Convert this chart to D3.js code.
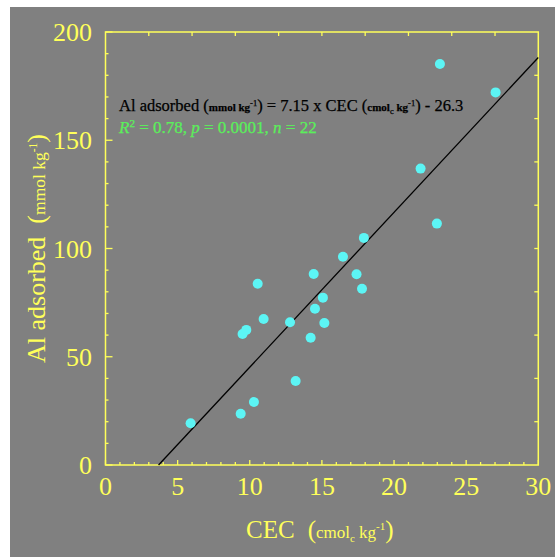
<!DOCTYPE html>
<html>
<head>
<meta charset="utf-8">
<script src="https://cdn.jsdelivr.net/npm/d3@7"></script>
<style>
  body { margin: 0; background: #fff; }
  svg text { font-family: "Liberation Serif", "Times New Roman", serif; }
</style>
</head>
<body>
<div id="chart"></div>
<script>
// CEC (cmolc/kg) vs Al adsorbed (mmol/kg)
const cec = [5.9, 9.37, 10.29, 13.18, 9.5, 9.76, 10.96, 10.55, 12.79, 14.22, 15.17,
             14.52, 15.07, 14.43, 16.46, 17.4, 17.78, 17.91, 23.18, 27.04, 21.84, 22.97];
const alAds = [19.3, 23.7, 29.1, 38.8, 60.5, 62.4, 67.4, 83.7, 65.9, 58.8, 65.6,
               72.2, 77.3, 88.2, 96.2, 88.1, 81.4, 104.9, 185.2, 172.1, 136.9, 111.5];
const slope = 7.15, intercept = -26.3;
const xTicks = [0, 5, 10, 15, 20, 25, 30];
const yTicks = [0, 50, 100, 150, 200];

const W = 555, H = 557;
const yellow = "#ffff5a", cyan = "#5cf5f5", green = "#5af05a";

const svg = d3.select("#chart").append("svg")
  .attr("width", W).attr("height", H);

// grey panel
svg.append("rect").attr("x", 10).attr("y", 7)
  .attr("width", W - 10).attr("height", H - 7).attr("fill", "#808080");

const x = d3.scaleLinear().domain([0, 30]).range([105.5, 538.3]);
const y = d3.scaleLinear().domain([0, 200]).range([465, 32]);

const g = svg.append("g");

// ticks: minor and major, inward
function tick(x1, y1, x2, y2) {
  g.append("line").attr("x1", x1).attr("y1", y1).attr("x2", x2).attr("y2", y2)
    .attr("stroke", yellow).attr("stroke-width", 1.3);
}
d3.range(0, 31, 1).forEach(v => {
  const len = v % 5 === 0 ? 5 : 3;
  tick(x(v), y(0), x(v), y(0) - len);
});
d3.range(0, 201, 10).forEach(v => {
  const len = v % 50 === 0 ? 7 : 3;
  tick(x(0), y(v), x(0) + len, y(v));
});
// mirrored ticks on top and right
d3.range(3, 30, 3).forEach(v => tick(x(v), y(200), x(v), y(200) + 4));
d3.range(20, 200, 20).forEach(v => tick(x(30), y(v), x(30) - 4, y(v)));

// frame
g.append("rect").attr("x", x(0)).attr("y", y(200))
  .attr("width", x(30) - x(0)).attr("height", y(0) - y(200))
  .attr("fill", "none").attr("stroke", yellow).attr("stroke-width", 1.5);

// tick labels
g.selectAll(".xl").data(xTicks).enter().append("text")
  .attr("x", d => x(d)).attr("y", 495)
  .attr("text-anchor", "middle").attr("fill", yellow)
  .attr("font-size", 26).text(d => d);
g.selectAll(".yl").data(yTicks).enter().append("text")
  .attr("x", 92).attr("y", d => y(d) + 9)
  .attr("text-anchor", "end").attr("fill", yellow)
  .attr("font-size", 26).text(d => d);

// regression line from x-intercept to 30
const x0 = -intercept / slope;
g.append("line")
  .attr("x1", x(x0)).attr("y1", y(slope * x0 + intercept))
  .attr("x2", x(30)).attr("y2", y(slope * 30 + intercept))
  .attr("stroke", "#000").attr("stroke-width", 1.3);

// points
g.selectAll("circle").data(cec).enter().append("circle")
  .attr("cx", d => x(d)).attr("cy", (d, i) => y(alAds[i]))
  .attr("r", 5).attr("fill", cyan);

// equation
const eq = svg.append("text").attr("x", 119).attr("y", 111)
  .attr("fill", "#000").attr("font-size", 16.5)
  .attr("stroke", "#000").attr("stroke-width", 0.25);
eq.append("tspan").text("Al adsorbed ");
eq.append("tspan").text("(");
eq.append("tspan").attr("font-size", 11).attr("font-weight", "bold").text("mmol kg");
eq.append("tspan").attr("font-size", 8.5).attr("dy", -5).text("-1");
eq.append("tspan").attr("dy", 5).text(") = 7.15 x CEC (");
eq.append("tspan").attr("font-size", 11).attr("font-weight", "bold").text("cmol");
eq.append("tspan").attr("font-size", 8.5).attr("dy", 3).text("c");
eq.append("tspan").attr("font-size", 11).attr("font-weight", "bold").attr("dy", -3).text(" kg");
eq.append("tspan").attr("font-size", 8.5).attr("dy", -5).text("-1");
eq.append("tspan").attr("dy", 5).text(") - 26.3");

const st = svg.append("text").attr("x", 119).attr("y", 133)
  .attr("fill", green).attr("font-size", 17)
  .attr("stroke", green).attr("stroke-width", 0.25);
st.append("tspan").attr("font-style", "italic").text("R");
st.append("tspan").attr("font-size", 11).attr("dy", -6).text("2");
st.append("tspan").attr("dy", 6).text(" = 0.78, ");
st.append("tspan").attr("font-style", "italic").text("p");
st.append("tspan").text(" = 0.0001, ");
st.append("tspan").attr("font-style", "italic").text("n");
st.append("tspan").text(" = 22");

// x title
const xt = svg.append("text").attr("x", 246).attr("y", 538)
  .attr("fill", yellow).attr("font-size", 25);
xt.append("tspan").text("CEC");
xt.append("tspan").attr("dx", 13).text("(");
xt.append("tspan").attr("font-size", 17).text("cmol");
xt.append("tspan").attr("font-size", 11).attr("dy", 4).text("c");
xt.append("tspan").attr("font-size", 17).attr("dy", -4).text(" kg");
xt.append("tspan").attr("font-size", 11).attr("dy", -8).text("-1");
xt.append("tspan").attr("dy", 8).text(")");

// y title
const yt = svg.append("text")
  .attr("transform", "translate(45,363) rotate(-90)")
  .attr("fill", yellow).attr("font-size", 26);
yt.append("tspan").text("Al adsorbed");
yt.append("tspan").attr("dx", 13).text("(");
yt.append("tspan").attr("font-size", 17.5).text("mmol kg");
yt.append("tspan").attr("font-size", 11.5).attr("dy", -8).text("-1");
yt.append("tspan").attr("dy", 8).text(")");
</script>
</body>
</html>
